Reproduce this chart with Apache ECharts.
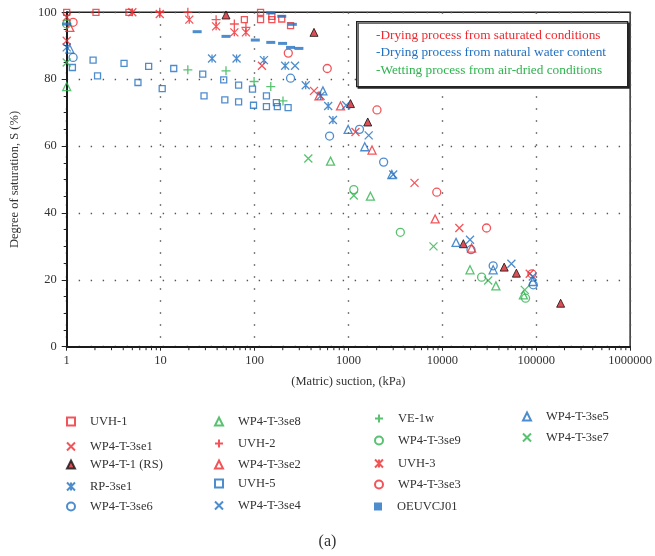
<!DOCTYPE html>
<html><head><meta charset="utf-8">
<script src="https://cdn.jsdelivr.net/npm/echarts@6/dist/echarts.min.js"></script>
<style>html,body{margin:0;padding:0;background:#fff}#c{width:655px;height:556px}</style>
</head><body><div id="c"></div>
<script>
// ---- data: [suction kPa, degree of saturation %] ----
const UVH1 = [[1,100],[2.05,100],[4.6,100],[78,97.8],[116,100],[116,97.8],[153,98.8],[153,97.8],[195,98],[242,96]];
const WP4_T_3se1 = [[1,98.5],[1,91.5],[120,84],[430,76.5],[1189,64.2],[5060,49],[15180,35.5],[85300,21.8]];
const WP4_T_1_RS = [[49.7,99.2],[430,94],[1052,72.7],[1606,67.2],[16750,30.8],[45600,23.8],[61500,22],[182000,13]];
const RP_3se1 = [[1,89.5],[35.3,86.2],[64.4,86.2],[126,85.7],[212,84],[351,78.2],[506,75],[609,72],[684,67.8]];
const WP4_T_3se6 = [[1.17,86.5],[242,80.3],[630,63],[1312,65],[2372,55.2],[20200,29],[34800,24.2],[93000,18.5]];
const WP4_T_3se8 = [[1,77.8],[645,55.5],[1715,45],[19720,23],[37200,18.2],[73000,15.5]];
const UVH2 = [[9.8,100],[19.5,100],[39,97.8],[61,96.5],[81,95.5]];
const WP4_T_3se2 = [[1.08,95.5],[486,75],[824,72],[1784,58.8],[8390,38.2],[20500,29.5]];
const UVH5 = [[1.15,83.5],[1.91,85.7],[2.13,81],[4.08,84.7],[5.74,79],[7.46,83.8],[10.4,77.2],[13.8,83.2],[28.1,81.5],[29,75],[47,79.8],[48.3,73.8],[67.7,78.2],[67.7,73.2],[95.2,77],[97.6,72.2],[134,75],[134,71.8],[171,73],[175,71.8],[228,71.5]];
const WP4_T_3se4 = [[270,84],[946,72.2],[1645,63.2],[3000,51.5],[19720,32],[54400,24.8],[92000,21]];
const VE1w = [[19.5,82.8],[49.7,82.5],[99,79.3],[149,77.8],[201,73.5]];
const WP4_T_3se9 = [[1,96.5],[1141,47],[3572,34.2],[26200,20.8],[77000,14.5]];
const UVH3 = [[5,100],[9.8,99.5],[20.2,97.8],[39,95.8],[61,94],[81,94]];
const WP4_T_3se3 = [[1.17,97],[229,87.8],[595,83.2],[2015,70.8],[8730,46.2],[29580,35.5],[90000,21.8]];
const OEUVCJ01 = [[1,96.5],[24.5,94.2],[49.7,92.8],[102,91.7],[149,99.8],[149,91],[195,98.8],[199,90.7],[253,96.4],[242,89.5],[297,89.2]];
const WP4_T_3se5 = [[1.08,89],[535,76.5],[993,65],[1493,59.8],[2900,51.5],[14000,31.2],[34800,23],[92000,19.5]];
const WP4_T_3se7 = [[1,85],[374,56.3],[1141,45.2],[8050,30],[30800,19.8],[75500,17]];

const X_TICKS = [1,10,100,1000,10000,100000,1000000];
const X_MINOR = [2,3,4,5,6,7,8,9,20,30,40,50,60,70,80,90,200,300,400,500,600,700,800,900,
  2000,3000,4000,5000,6000,7000,8000,9000,20000,30000,40000,50000,60000,70000,80000,90000,
  200000,300000,400000,500000,600000,700000,800000,900000];
const Y_TICKS = [0,20,40,60,80,100];
const NOTE_LINES = ['-Drying process from saturated conditions','-Drying process from natural water content','-Wetting process from air-dried conditions'];

// ---- styling ----
const RED='#ee2a30', BLUE='#2271c1', GREEN='#2fb34e';
const FONT='"Liberation Serif", "DejaVu Serif", serif';
const X_PATH='path://M0,0L10,10M10,0L0,10';
const AST_PATH='path://M0,0L10,10M10,0L0,10M5,0L5,10';
const PLUS_PATH='path://M5,0L5,10M0,5L10,5';

const defs = [
  {name:'UVH-1', data:UVH1, symbol:'rect', size:6, color:RED, hollow:true, leg:[66,422]},
  {name:'WP4-T-3se1', data:WP4_T_3se1, symbol:X_PATH, size:8, color:RED, hollow:true, leg:[66,447]},
  {name:'WP4-T-1 (RS)', data:WP4_T_1_RS, symbol:'triangle', size:8, color:'#d4222a', border:'#111', leg:[66,465]},
  {name:'RP-3se1', data:RP_3se1, symbol:AST_PATH, size:8, color:BLUE, hollow:true, leg:[66,487]},
  {name:'WP4-T-3se6', data:WP4_T_3se6, symbol:'circle', size:8, color:BLUE, hollow:true, leg:[66,507]},
  {name:'WP4-T-3se8', data:WP4_T_3se8, symbol:'triangle', size:8, color:GREEN, hollow:true, leg:[214,422]},
  {name:'UVH-2', data:UVH2, symbol:PLUS_PATH, size:9, color:RED, hollow:true, leg:[214,444]},
  {name:'WP4-T-3se2', data:WP4_T_3se2, symbol:'triangle', size:8, color:RED, hollow:true, leg:[214,465]},
  {name:'UVH-5', data:UVH5, symbol:'rect', size:6, color:BLUE, hollow:true, leg:[214,484]},
  {name:'WP4-T-3se4', data:WP4_T_3se4, symbol:X_PATH, size:8, color:BLUE, hollow:true, leg:[214,506]},
  {name:'VE-1w', data:VE1w, symbol:PLUS_PATH, size:9, color:GREEN, hollow:true, leg:[374,419]},
  {name:'WP4-T-3se9', data:WP4_T_3se9, symbol:'circle', size:8, color:GREEN, hollow:true, leg:[374,441]},
  {name:'UVH-3', data:UVH3, symbol:AST_PATH, size:8, color:RED, hollow:true, leg:[374,464]},
  {name:'WP4-T-3se3', data:WP4_T_3se3, symbol:'circle', size:8, color:RED, hollow:true, leg:[374,485]},
  {name:'OEUVCJ01', data:OEUVCJ01, symbol:'rect', size:[9,3], color:BLUE, hollow:false, leg:[374,507]},
  {name:'WP4-T-3se5', data:WP4_T_3se5, symbol:'triangle', size:8, color:BLUE, hollow:true, leg:[522,417]},
  {name:'WP4-T-3se7', data:WP4_T_3se7, symbol:X_PATH, size:8, color:GREEN, hollow:true, leg:[522,438]}
];

const series = defs.map(d => ({
  name: d.name, type: 'scatter', data: d.data, symbol: d.symbol, symbolSize: d.size,
  clip: false, z: 3,
  itemStyle: d.hollow ? {color:'rgba(255,255,255,0)', borderColor:d.color, borderWidth:1.3}
           : d.border ? {color:d.color, borderColor:d.border, borderWidth:1}
           : {color:d.color, borderWidth:0},
  emphasis: {disabled:true}
}));

series.push({
  name:'minorTicks', type:'custom', silent:true, clip:false, z:2,
  data: X_MINOR.map(v => [v, 0]),
  renderItem: (params, api) => {
    const p = api.coord([api.value(0), 0]);
    return {type:'line', shape:{x1:p[0], y1:p[1], x2:p[0], y2:p[1]+3.5}, style:{stroke:'#222', lineWidth:1}};
  }
});

const legends = defs.map(d => ({
  data:[d.name], left:d.leg[0], top:d.leg[1]-7, orient:'horizontal',
  itemWidth:8, itemHeight:8, selectedMode:false, padding:0,
  textStyle:{fontFamily:FONT, fontSize:12.5, color:'#333', padding:[0,0,0,10]}
}));

const dotted = {color:'#555', width:1.4, type:[1.4,10.6]};

const graphic = [
  {type:'rect', left:356, top:21, z:100, shape:{width:271, height:65},
   style:{fill:'#fff', stroke:'#222', lineWidth:1.3, shadowColor:'rgba(0,0,0,0.75)', shadowOffsetX:1.5, shadowOffsetY:1.5, shadowBlur:0}},
  {type:'text', left:376, top:29, z:101, style:{text:NOTE_LINES[0], fill:RED, font:'13.3px '+FONT}},
  {type:'text', left:376, top:46, z:101, style:{text:NOTE_LINES[1], fill:BLUE, font:'13.3px '+FONT}},
  {type:'text', left:376, top:64, z:101, style:{text:NOTE_LINES[2], fill:GREEN, font:'13.3px '+FONT}}
];

const chart = echarts.init(document.getElementById('c'), null, {renderer:'canvas'});
chart.setOption({
  animation:false,
  backgroundColor:'#fff',
  title:{text:'(a)', left:'center', top:529, textStyle:{fontFamily:FONT, fontSize:16, fontWeight:'normal', color:'#333'}},
  grid:{left:66.7, right:23, top:12.3, bottom:209.3, show:true, borderColor:'#222', borderWidth:1.4},
  xAxis:{
    type:'log', logBase:10, min:X_TICKS[0], max:X_TICKS[X_TICKS.length-1], splitNumber:6,
    name:'(Matric) suction, (kPa)', nameLocation:'middle', nameGap:29,
    nameTextStyle:{fontFamily:FONT, fontSize:12.5, color:'#333'},
    axisLine:{lineStyle:{color:'#1a1a1a', width:2}},
    axisTick:{show:true, length:4, lineStyle:{color:'#222', width:1}},
    axisLabel:{fontFamily:FONT, fontSize:12.5, color:'#333', margin:8, formatter:v => String(Math.round(v))},
    splitLine:{show:true, lineStyle:dotted}
  },
  yAxis:{
    type:'value', min:Y_TICKS[0], max:Y_TICKS[Y_TICKS.length-1], interval:20,
    name:'Degree of saturation, S (%)', nameLocation:'middle', nameGap:45,
    nameTextStyle:{fontFamily:FONT, fontSize:12.5, color:'#333'},
    axisLine:{lineStyle:{color:'#1a1a1a', width:2}},
    axisTick:{show:true, length:5, lineStyle:{color:'#222', width:1}},
    minorTick:{show:true, splitNumber:4, length:3, lineStyle:{color:'#222', width:1}},
    axisLabel:{fontFamily:FONT, fontSize:12.5, color:'#333', margin:10},
    splitLine:{show:true, lineStyle:dotted}
  },
  legend: legends,
  graphic: graphic,
  series: series
});
</script></body></html>
